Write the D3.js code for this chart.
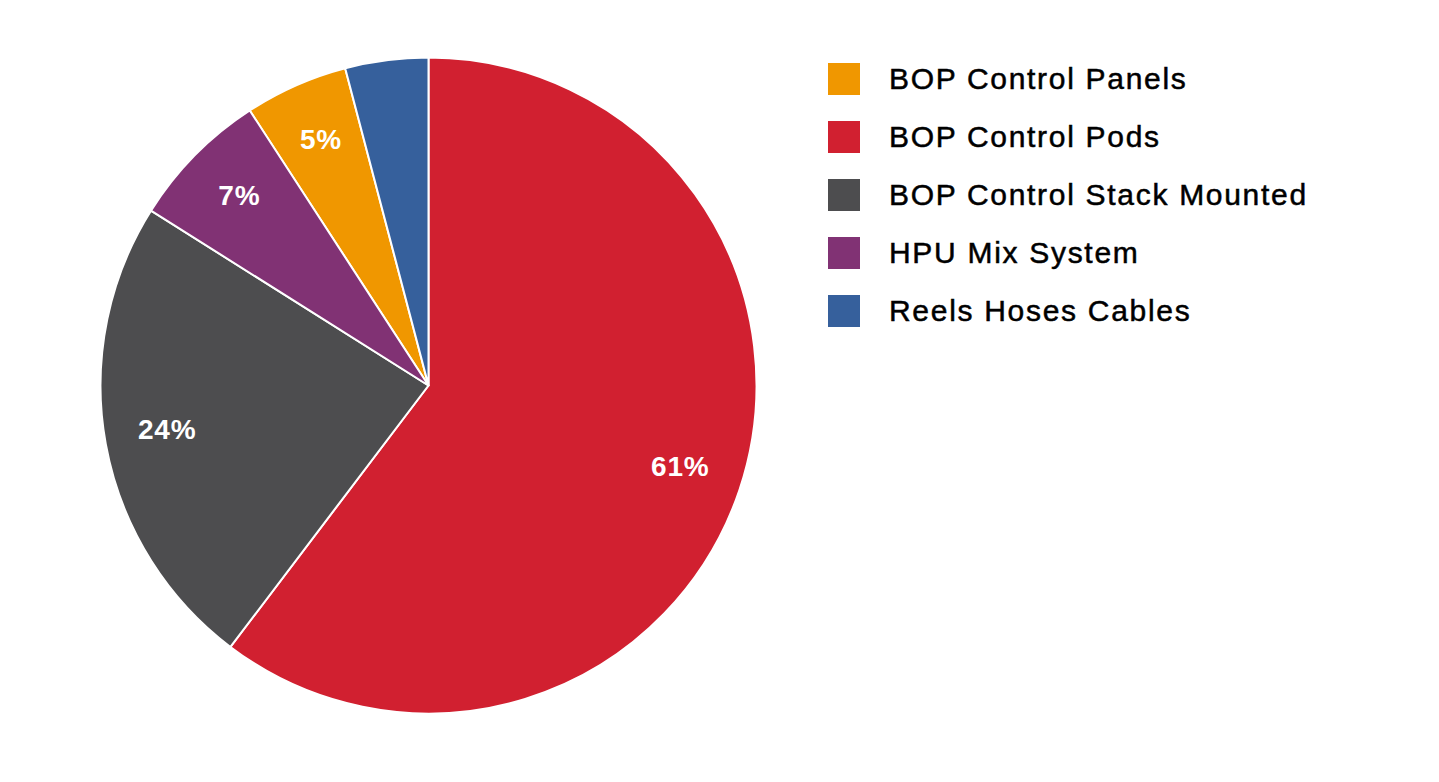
<!DOCTYPE html>
<html><head><meta charset="utf-8">
<script src="https://cdn.jsdelivr.net/npm/d3@7"></script>
<style>html,body{margin:0;padding:0;background:#fff;}svg{display:block;}</style>
</head><body>
<svg id="chart" width="1439" height="782"></svg>
<script>
const categories = ["BOP Control Panels","BOP Control Pods","BOP Control Stack Mounted","HPU Mix System","Reels Hoses Cables"];
const values = [5.1, 60.5, 23.7, 6.9, 4.1];
const colors = ["#F09700","#D12030","#4D4D4F","#813274","#36609C"];

const svg = d3.select("#chart");
const cx = 428.5, cy = 385.5, R = 328;
const data = categories.map((c,i)=>({name:c, value:values[i], color:colors[i]}));
const pie = d3.pie().value(d=>d.value).sort((a,b)=>b.value-a.value);
const arcs = pie(data);
const arc = d3.arc().innerRadius(0).outerRadius(R);
const labelArc = d3.arc().innerRadius(R*0.81).outerRadius(R*0.81);
const g = svg.append("g").attr("transform",`translate(${cx},${cy})`);
g.selectAll("path").data(arcs).join("path")
  .attr("d",arc).attr("fill",d=>d.data.color)
  .attr("stroke","#fff").attr("stroke-width",2).attr("stroke-linejoin","round");
g.selectAll("text").data(arcs.filter(d=>d.data.value>=4.5)).join("text")
  .attr("transform",d=>`translate(${labelArc.centroid(d)})`)
  .attr("text-anchor","middle").attr("dy","0.22em")
  .attr("fill","#fff").attr("font-family","'Liberation Sans', Arial, Helvetica, sans-serif")
  .attr("font-weight","bold").attr("font-size",28).attr("letter-spacing",0.8)
  .text(d=>Math.round(d.data.value)+"%");

const leg = svg.append("g").attr("transform","translate(828,62)");
const rows = leg.selectAll("g").data(data).join("g").attr("transform",(d,i)=>`translate(0,${i*58})`);
rows.append("rect").attr("y",1).attr("width",32).attr("height",32).attr("fill",d=>d.color);
rows.append("text").attr("x",61).attr("y",16).attr("dy","0.36em")
  .attr("font-family","'Liberation Sans', Arial, Helvetica, sans-serif")
  .attr("font-size",30).attr("letter-spacing",1.7)
  .attr("stroke","#000").attr("stroke-width",0.5)
  .attr("fill","#000").text(d=>d.name);
</script>
</body></html>
